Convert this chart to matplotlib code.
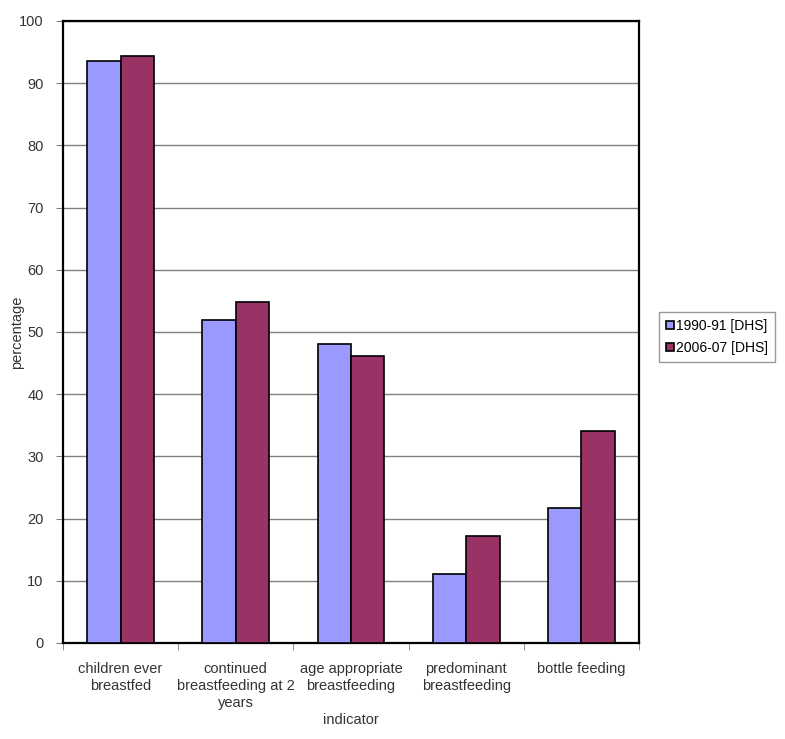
import numpy as np
from matplotlib import pyplot as plt

categories = ["children ever\nbreastfed", "continued\nbreastfeeding at 2\nyears",
              "age appropriate\nbreastfeeding", "predominant\nbreastfeeding", "bottle feeding"]
dhs_1990 = [93.5, 51.9, 48.1, 11.1, 21.7]
dhs_2006 = [94.3, 54.8, 46.1, 17.2, 34.1]
series_names = ["1990-91 [DHS]", "2006-07 [DHS]"]

plt.rcParams['font.family'] = ['Liberation Sans', 'DejaVu Sans']
fig = plt.figure(figsize=(7.85, 7.39), dpi=100)
ax = fig.add_axes([63/785, 1 - 643/739, (639-63)/785, (643-21)/739])

x = np.arange(len(categories))
w = 0.29
ax.bar(x - w/2, dhs_1990, w, color="#9999FF", edgecolor="black", linewidth=1.2, label=series_names[0], zorder=3)
ax.bar(x + w/2, dhs_2006, w, color="#993366", edgecolor="black", linewidth=1.2, label=series_names[1], zorder=3)

ax.set_xlim(-0.5, len(categories) - 0.5)
ax.set_ylim(0, 100)
ax.set_yticks(range(0, 101, 10))
ax.yaxis.grid(True, color="#808080", linewidth=1, zorder=0)
ax.set_xticks(x)
ax.set_xticklabels(categories, fontsize=10.5, color="#333333", va="top", linespacing=1.25)
ax.tick_params(axis="x", length=0, pad=14)
ax.set_xticks(np.arange(-0.5, len(categories), 1), minor=True)
ax.tick_params(axis="x", which="minor", length=5, color="#808080")
ax.tick_params(axis="y", length=5, labelsize=10.5, color="#808080", labelcolor="#333333", pad=9)
for s in ax.spines.values():
    s.set_linewidth(1.6)

ax.set_ylabel("percentage", fontsize=10.5, color="#333333", va="center")
ax.yaxis.set_label_coords(-0.08, 0.5)
ax.set_xlabel("indicator", fontsize=10.5, color="#333333", va="center")
ax.xaxis.set_label_coords(0.5, -0.124)

ax.legend(loc="center left", bbox_to_anchor=(652/785, 1 - 337/739), bbox_transform=fig.transFigure,
          fontsize=10, frameon=True, fancybox=False, edgecolor="#808080", handlelength=0.55,
          handleheight=0.55, handletextpad=0.2, borderpad=0.5, labelspacing=0.6)

fig.savefig("out.png", dpi=100)
